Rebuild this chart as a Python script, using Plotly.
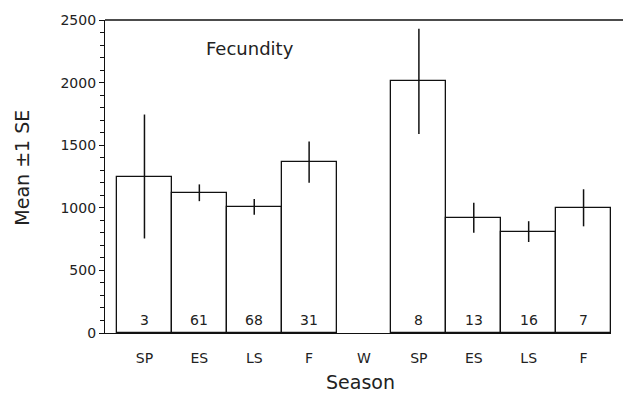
import plotly.graph_objects as go

seasons = ["SP", "ES", "LS", "F", "W", "SP", "ES", "LS", "F"]
means = [1250, 1120, 1008, 1365, None, 2010, 920, 810, 1000]
se = [495, 67, 63, 165, None, 420, 120, 83, 148]
counts = ["3", "61", "68", "31", "", "8", "13", "16", "7"]
y_ticks = [0, 500, 1000, 1500, 2000, 2500]

xpos = list(range(len(seasons)))
FONT = "DejaVu Sans"
TXT = "#222222"

# plot area in pixels
L, R, T, B = 105, 611, 15, 333
PW, PH = R - L, B - T


def px(x):
    return (x - L) / PW


def py(y):
    return (B - y) / PH


fig = go.Figure()
fig.add_trace(go.Bar(
    x=xpos, y=means, width=1.0,
    marker=dict(color="white", line=dict(color="#111111", width=1.3)),
    error_y=dict(type="data", array=se, visible=True, width=0,
                 thickness=1.5, color="#111111"),
    showlegend=False,
))

for xi, c in zip(xpos, counts):
    if c:
        fig.add_annotation(x=xi, y=100, xref="x", yref="y", text=c,
                           showarrow=False, xanchor="center", yanchor="middle",
                           font=dict(family=FONT, size=14, color=TXT))

fig.add_annotation(x=px(250), y=py(44), xref="paper", yref="paper", text="Fecundity",
                   showarrow=False, xanchor="center", yanchor="middle",
                   font=dict(family=FONT, size=18, color=TXT))

fig.add_annotation(x=px(360), y=py(383), xref="paper", yref="paper", text="Season",
                   showarrow=False, xanchor="center", yanchor="middle",
                   font=dict(family=FONT, size=19, color=TXT))

fig.add_annotation(x=px(22), y=py(165), xref="paper", yref="paper", text="Mean ±1 SE",
                   showarrow=False, xanchor="center", yanchor="middle", textangle=-90,
                   font=dict(family=FONT, size=19, color=TXT))

fig.update_layout(
    width=623, height=394,
    margin=dict(l=L, r=623 - R, t=T, b=394 - B),
    paper_bgcolor="white", plot_bgcolor="white",
    bargap=0,
    xaxis=dict(range=[-0.719, 8.5], tickvals=xpos, ticktext=seasons,
               showgrid=False, zeroline=False, showline=True,
               linecolor="#111111", linewidth=1.3,
               ticks="outside", ticklen=12, tickcolor="rgba(0,0,0,0)",
               tickfont=dict(family=FONT, size=14, color=TXT)),
    yaxis=dict(range=[0, 2500], tickvals=y_ticks,
               showgrid=False, zeroline=False, showline=True,
               linecolor="#111111", linewidth=1.3,
               ticks="outside", ticklen=5, tickcolor="#111111",
               minor=dict(dtick=100, ticks="outside", ticklen=4, tickcolor="#111111"),
               tickfont=dict(family=FONT, size=14, color=TXT)),
)

# top frame line
fig.add_shape(type="line", xref="paper", yref="paper",
              x0=0, x1=px(623), y0=1, y1=1,
              line=dict(color="#111111", width=1.3))

fig.write_html("out.html")
